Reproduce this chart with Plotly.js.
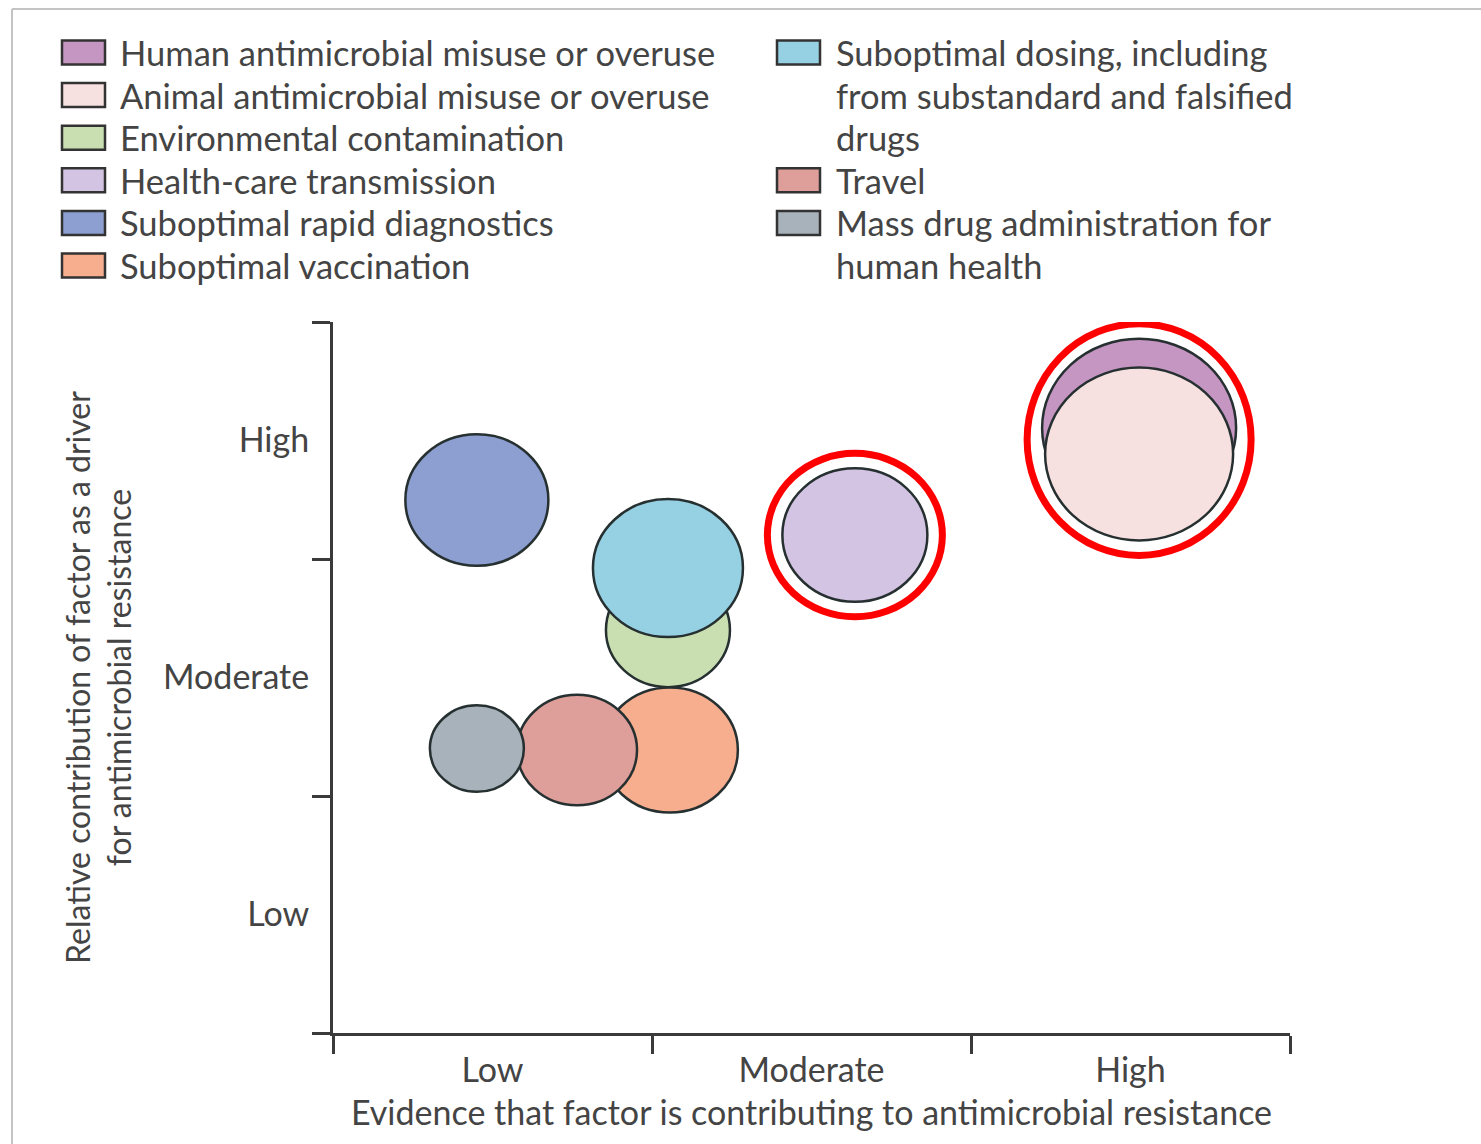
<!DOCTYPE html>
<html>
<head>
<meta charset="utf-8">
<script src="https://cdn.plot.ly/plotly-3.0.1.min.js"></script>
<style>html,body{margin:0;padding:0;background:#fff;}#chart{width:1481px;height:1144px;}</style>
</head>
<body>
<div id="chart"></div>
<script>
// ---------------- DATA ----------------
const factors = [
  'Human antimicrobial misuse or overuse',
  'Animal antimicrobial misuse or overuse',
  'Environmental contamination',
  'Health-care transmission',
  'Suboptimal rapid diagnostics',
  'Suboptimal vaccination',
  'Suboptimal dosing, including<br>from substandard and falsified<br>drugs',
  'Travel',
  'Mass drug administration for<br>human health'
];
// Evidence that factor is contributing (x, 0-3 scale: Low / Moderate / High bands)
const evidence =     [2.527, 2.527, 1.050, 1.636, 0.451, 1.056, 1.050, 0.765, 0.451];
// Relative contribution as a driver (y, 0-3 scale)
const contribution = [2.553, 2.443, 1.700, 2.101, 2.249, 1.194, 1.962, 1.194, 1.200];
// Bubble magnitude
const bubbleSize =   [194, 188, 124, 145, 143, 136, 150, 120, 94];
const colors = ['#C596C2', '#F6E0E0', '#C9DFB1', '#D4C4E3', '#8D9ED1', '#F6AE8E', '#96D0E3', '#DE9E99', '#A8B2BB'];
const levelLabels = ['Low', 'Moderate', 'High'];
const levelPositions = [0.5, 1.5, 2.5];
const bandEdges = [0, 1, 2, 3];
// highlighted groups (indices into factors)
const highlightGroups = [[3], [0, 1]];
// legend columns (indices into factors)
const legendColumns = [[0, 1, 2, 3, 4, 5], [6, 7, 8]];

// ---------------- LAYOUT HELPERS ----------------
const W = 1481, H = 1144;
const M = {l: 333, r: 191, t: 322, b: 111};
const plotW = W - M.l - M.r, plotH = H - M.t - M.b;
const pxPerX = plotW / 3, pxPerY = plotH / 3;
const ASPECT = 0.92;
const FONT = 'Lato, "Open Sans", sans-serif';
const TXT = '#444444';
const px2paperX = px => (px - M.l) / plotW;
const px2paperY = py => (H - M.b - py) / plotH;

const shapes = [];
const annotations = [];

// frame lines of the original figure
shapes.push({type: 'line', xref: 'paper', yref: 'paper', x0: px2paperX(12), x1: px2paperX(W), y0: px2paperY(9), y1: px2paperY(9), line: {color: '#C4C4C4', width: 2}, layer: 'below'});
shapes.push({type: 'line', xref: 'paper', yref: 'paper', x0: px2paperX(12), x1: px2paperX(12), y0: px2paperY(9), y1: px2paperY(H), line: {color: '#C4C4C4', width: 2}, layer: 'below'});

// bubbles
function bubbleBox(i) {
  const rx = bubbleSize[i] / 2 / pxPerX;
  const ry = bubbleSize[i] / 2 * ASPECT / pxPerY;
  return {x0: evidence[i] - rx, x1: evidence[i] + rx, y0: contribution[i] - ry, y1: contribution[i] + ry};
}
factors.forEach((f, i) => {
  const b = bubbleBox(i);
  shapes.push(Object.assign({type: 'circle', xref: 'x', yref: 'y', fillcolor: colors[i],
    line: {color: '#263031', width: 2.5}, layer: 'above'}, b));
});
// red highlight rings
const PAD = 15;
highlightGroups.forEach(g => {
  const boxes = g.map(bubbleBox);
  const x0 = Math.min(...boxes.map(b => b.x0)) - PAD / pxPerX;
  const x1 = Math.max(...boxes.map(b => b.x1)) + PAD / pxPerX;
  const y0 = Math.min(...boxes.map(b => b.y0)) - PAD / pxPerY;
  const y1 = Math.max(...boxes.map(b => b.y1)) + PAD / pxPerY;
  shapes.push({type: 'circle', xref: 'x', yref: 'y', x0, x1, y0, y1, line: {color: '#FF0000', width: 7}, layer: 'above'});
});

// legend (two columns)
const LEG_ROW0 = 52.5, LEG_STEP = 42.6;
const legCols = [{box: 62, text: 118}, {box: 777, text: 834}];
legendColumns.forEach((col, c) => {
  let row = 0;
  col.forEach(i => {
    const yc = LEG_ROW0 + row * LEG_STEP;
    shapes.push({type: 'rect', xref: 'paper', yref: 'paper',
      x0: px2paperX(legCols[c].box), x1: px2paperX(legCols[c].box + 43),
      y0: px2paperY(yc - 12), y1: px2paperY(yc + 12),
      fillcolor: colors[i], line: {color: '#333333', width: 2.5}});
    factors[i].split('<br>').forEach(line => {
      const y = LEG_ROW0 + row * LEG_STEP;
      annotations.push({xref: 'paper', yref: 'paper', x: px2paperX(legCols[c].text), y: px2paperY(y),
        xanchor: 'left', yanchor: 'middle', text: line, showarrow: false,
        font: {family: FONT, size: 34.5, color: TXT}});
      row++;
    });
  });
});

const traces = [{
  type: 'scatter', mode: 'markers', x: evidence, y: contribution,
  text: factors.map(f => f.replace(/<br>/g, ' ')), hoverinfo: 'text',
  marker: {size: bubbleSize.map(s => s / 2), opacity: 0}, showlegend: false
}];

const axisCommon = {
  range: [0, 3], showgrid: false, zeroline: false, showline: true, linecolor: '#3A3A3A', linewidth: 3,
  tickmode: 'array', tickvals: levelPositions, ticktext: levelLabels, ticks: '',
  tickfont: {family: FONT, size: 34, color: TXT},
  minor: {tickmode: 'array', tickvals: bandEdges, ticks: 'outside', ticklen: 18, tickwidth: 3, tickcolor: '#3A3A3A'},
  fixedrange: true
};

const layout = {
  width: W, height: H, margin: M, paper_bgcolor: '#FFFFFF', plot_bgcolor: '#FFFFFF',
  showlegend: false,
  xaxis: Object.assign({}, axisCommon, {
    ticklabelstandoff: 5,
    title: {text: 'Evidence that factor is contributing to antimicrobial resistance', standoff: 14,
      font: {family: FONT, size: 34, color: TXT}}
  }),
  yaxis: Object.assign({}, axisCommon, {
    ticklabelstandoff: 14,
    title: {text: 'Relative contribution of factor as a driver<br>for antimicrobial resistance', standoff: 22,
      font: {family: FONT, size: 32, color: TXT}}
  }),
  shapes: shapes,
  annotations: annotations,
  hovermode: 'closest'
};

Plotly.newPlot('chart', traces, layout, {displayModeBar: false, staticPlot: false});
</script>
</body>
</html>
